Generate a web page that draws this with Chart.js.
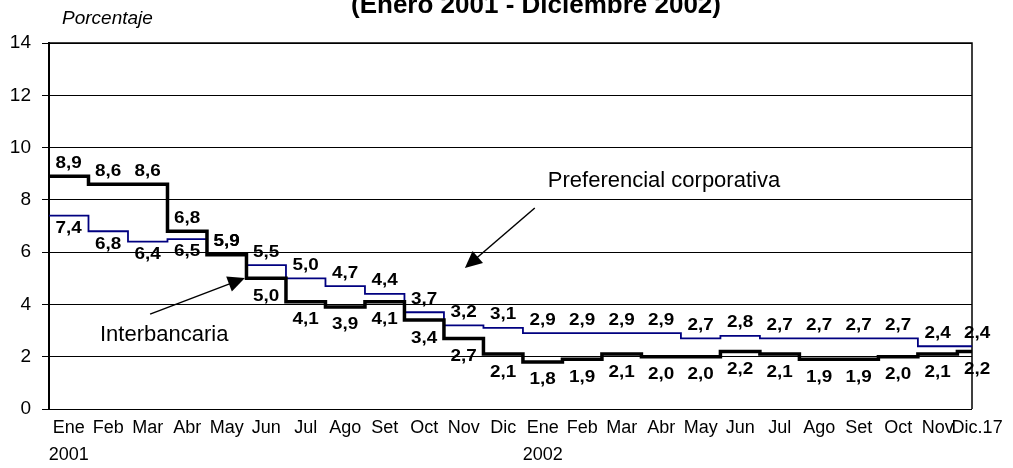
<!DOCTYPE html>
<html lang="es">
<head>
  <meta charset="UTF-8">
  <title>Tasas de interés (Enero 2001 - Diciembre 2002)</title>
  <script src="https://cdn.jsdelivr.net/npm/chart.js"></script>
  <style>
    html, body { margin: 0; padding: 0; background: #fff; }
  </style>
</head>
<body>

<canvas id="grafico" width="1013" height="468"></canvas>

<script>
  const meses = ['Ene', 'Feb', 'Mar', 'Abr', 'May', 'Jun', 'Jul', 'Ago', 'Set', 'Oct', 'Nov', 'Dic',
                 'Ene', 'Feb', 'Mar', 'Abr', 'May', 'Jun', 'Jul', 'Ago', 'Set', 'Oct', 'Nov', 'Dic.17'];
  const anios = ['2001', '', '', '', '', '', '', '', '', '', '', '',
                 '2002', '', '', '', '', '', '', '', '', '', '', ''];
  const interbancaria = [8.9, 8.6, 8.6, 6.8, 5.9, 5.0, 4.1, 3.9, 4.1, 3.4, 2.7, 2.1,
                         1.8, 1.9, 2.1, 2.0, 2.0, 2.2, 2.1, 1.9, 1.9, 2.0, 2.1, 2.2];
  const preferencial = [7.4, 6.8, 6.4, 6.5, 5.9, 5.5, 5.0, 4.7, 4.4, 3.7, 3.2, 3.1,
                        2.9, 2.9, 2.9, 2.9, 2.7, 2.8, 2.7, 2.7, 2.7, 2.7, 2.4, 2.4];
  const yTicks = [0, 2, 4, 6, 8, 10, 12, 14];

  // donde va cada etiqueta respecto a la linea
  const posInter = meses.map((m, i) => i < 5 ? 'arriba' : 'abajo');
  const posPref = meses.map((m, i) => i < 4 ? 'abajo' : 'arriba');

  // el ultimo mes llega solo hasta el 17
  const X_MAX = 23.37;
  const FUENTE = "'Liberation Sans', Arial, sans-serif";
  Chart.defaults.font.family = FUENTE;
  Chart.defaults.color = '#000';

  function escalones(vals) {
    const pts = vals.map((v, i) => ({ x: i, y: v }));
    pts.push({ x: X_MAX, y: vals[vals.length - 1] });
    return pts;
  }

  function flecha(ctx, x1, y1, x2, y2) {
    const ang = Math.atan2(y2 - y1, x2 - x1);
    const largo = 17, ancho = 8;
    ctx.beginPath();
    ctx.moveTo(x1, y1);
    ctx.lineTo(x2 - Math.cos(ang) * largo * 0.8, y2 - Math.sin(ang) * largo * 0.8);
    ctx.lineWidth = 1.5;
    ctx.strokeStyle = '#000';
    ctx.stroke();
    ctx.beginPath();
    ctx.moveTo(x2, y2);
    ctx.lineTo(x2 - Math.cos(ang) * largo + Math.sin(ang) * ancho, y2 - Math.sin(ang) * largo - Math.cos(ang) * ancho);
    ctx.lineTo(x2 - Math.cos(ang) * largo - Math.sin(ang) * ancho, y2 - Math.sin(ang) * largo + Math.cos(ang) * ancho);
    ctx.closePath();
    ctx.fillStyle = '#000';
    ctx.fill();
  }

  const marco = {
    id: 'marco',
    beforeDatasetsDraw(chart) {
      const { ctx, chartArea: a } = chart;
      ctx.save();
      ctx.strokeStyle = '#000';
      ctx.lineWidth = 1.5;
      ctx.beginPath();
      ctx.moveTo(a.left, a.top);
      ctx.lineTo(a.right, a.top);
      ctx.lineTo(a.right, a.bottom);
      ctx.stroke();
      ctx.restore();
    }
  };

  const textos = {
    id: 'textos',
    afterDraw(chart) {
      const { ctx } = chart;
      const xs = chart.scales.x, ys = chart.scales.y;
      ctx.save();
      ctx.fillStyle = '#000';

      // etiquetas de valores (algo ensanchadas, como en el original)
      ctx.font = 'bold 16px ' + FUENTE;
      ctx.textAlign = 'center';
      ctx.textBaseline = 'middle';
      const series = [
        { vals: interbancaria, pos: posInter, abajo: 18 },
        { vals: preferencial, pos: posPref, abajo: 13 }
      ];
      series.forEach(s => {
        s.vals.forEach((v, i) => {
          const x = xs.getPixelForValue(i + 0.5);
          const y = ys.getPixelForValue(v) + (s.pos[i] === 'arriba' ? -13 : s.abajo);
          ctx.save();
          ctx.translate(x, y);
          ctx.scale(1.18, 1);
          ctx.fillText(v.toFixed(1).replace('.', ','), 0, 0);
          ctx.restore();
        });
      });

      // rotulos de las series
      ctx.font = '22px ' + FUENTE;
      ctx.textAlign = 'left';
      ctx.textBaseline = 'alphabetic';
      ctx.fillText('Preferencial corporativa', xs.getPixelForValue(12.63), ys.getPixelForValue(8.49));
      ctx.fillText('Interbancaria', xs.getPixelForValue(1.29), ys.getPixelForValue(2.6));
      flecha(ctx, xs.getPixelForValue(12.3), ys.getPixelForValue(7.69), xs.getPixelForValue(10.53), ys.getPixelForValue(5.39));
      flecha(ctx, xs.getPixelForValue(2.56), ys.getPixelForValue(3.63), xs.getPixelForValue(4.96), ys.getPixelForValue(5.01));

      // titulo y unidad
      ctx.font = 'bold 26px ' + FUENTE;
      ctx.textAlign = 'center';
      ctx.fillText('(Enero 2001 - Diciembre 2002)', 536, 13);
      ctx.font = 'italic 19px ' + FUENTE;
      ctx.textAlign = 'left';
      ctx.fillText('Porcentaje', 62, 24);
      ctx.restore();
    }
  };

  new Chart(document.getElementById('grafico'), {
    type: 'line',
    data: {
      datasets: [
        {
          label: 'Interbancaria',
          data: escalones(interbancaria),
          borderColor: '#000',
          borderWidth: 3.5,
          stepped: true,
          pointRadius: 0,
          fill: false
        },
        {
          label: 'Preferencial corporativa',
          data: escalones(preferencial),
          borderColor: '#000080',
          borderWidth: 1.8,
          stepped: true,
          pointRadius: 0,
          fill: false
        }
      ]
    },
    options: {
      responsive: false,
      animation: false,
      layout: { padding: { top: 43, right: 41, bottom: 0, left: 0 } },
      plugins: {
        legend: { display: false },
        title: { display: false },
        tooltip: { enabled: false }
      },
      scales: {
        x: {
          type: 'linear',
          min: 0,
          max: X_MAX,
          grid: { display: false, drawTicks: false },
          border: { display: false },
          afterBuildTicks: s => { s.ticks = meses.map((m, i) => ({ value: i + 0.5 })); },
          ticks: {
            autoSkip: false,
            maxRotation: 0,
            padding: 6,
            color: '#000',
            font: { size: 18, lineHeight: 1.5 },
            callback: (v, i) => anios[i] ? [meses[i], anios[i]] : meses[i]
          },
          afterFit: s => { s.height = 59; s.paddingLeft = 0; s.paddingRight = 0; }
        },
        y: {
          min: 0,
          max: 14,
          afterBuildTicks: s => { s.ticks = yTicks.map(v => ({ value: v })); },
          grid: { color: '#000', lineWidth: 1, tickLength: 7 },
          border: { display: true, color: '#000', width: 2 },
          ticks: { padding: 11, color: '#000', font: { size: 19 } },
          afterFit: s => { s.width = 49; s.paddingTop = 0; s.paddingBottom = 0; }
        }
      }
    },
    plugins: [marco, textos]
  });
</script>

</body>
</html>
